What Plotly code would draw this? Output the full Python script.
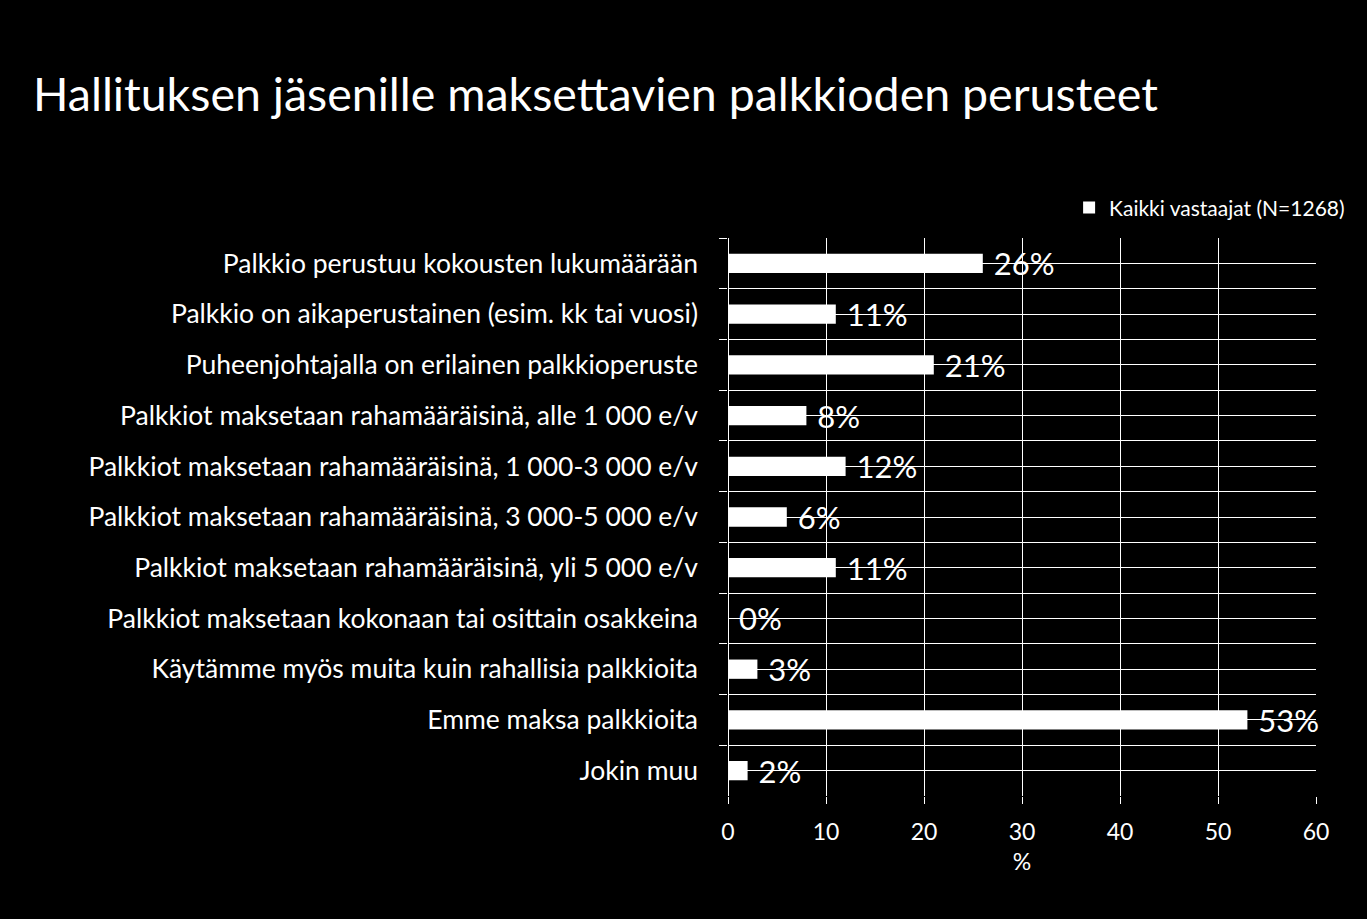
import plotly.graph_objects as go

categories = [
    "Palkkio perustuu kokousten lukumäärään",
    "Palkkio on aikaperustainen (esim. kk tai vuosi)",
    "Puheenjohtajalla on erilainen palkkioperuste",
    "Palkkiot maksetaan rahamääräisinä, alle 1 000 e/v",
    "Palkkiot maksetaan rahamääräisinä, 1 000-3 000 e/v",
    "Palkkiot maksetaan rahamääräisinä, 3 000-5 000 e/v",
    "Palkkiot maksetaan rahamääräisinä, yli 5 000 e/v",
    "Palkkiot maksetaan kokonaan tai osittain osakkeina",
    "Käytämme myös muita kuin rahallisia palkkioita",
    "Emme maksa palkkioita",
    "Jokin muu",
]
values = [26, 11, 21, 8, 12, 6, 11, 0, 3, 53, 2]
series_name = "Kaikki vastaajat (N=1268)"
title_text = "Hallituksen jäsenille maksettavien palkkioden perusteet"
x_ticks = [0, 10, 20, 30, 40, 50, 60]

FONT = "Lato"

fig = go.Figure()
fig.add_trace(go.Bar(
    x=values, y=categories, orientation="h", name=series_name,
    marker=dict(color="white", line=dict(width=0)),
    width=0.38,
    text=[f" {v}%" for v in values], textposition="outside",
    textfont=dict(color="white", size=31, family=FONT),
    constraintext="none", cliponaxis=False,
    showlegend=True,
))
# helper trace for the center gridlines
fig.add_trace(go.Scatter(
    x=[None] * len(categories), y=categories, yaxis="y2",
    mode="markers", showlegend=False, hoverinfo="skip",
))

fig.update_layout(
    width=1367, height=919,
    paper_bgcolor="black", plot_bgcolor="black",
    margin=dict(l=728, r=51, t=238, b=123),
    font=dict(family=FONT, color="white"),
    title=dict(text=title_text, x=33 / 1367, xanchor="left", y=1 - 95 / 919, yanchor="middle",
               font=dict(size=46.5, family=FONT, color="white")),
    showlegend=True,
    legend=dict(x=1.058, xanchor="right", y=1.054, yanchor="middle",
                font=dict(size=21, family=FONT, color="white"),
                bgcolor="rgba(0,0,0,0)", itemwidth=30),
    xaxis=dict(range=[0, 60], tickvals=x_ticks, showgrid=True, gridcolor="white", gridwidth=1,
               zeroline=True, zerolinecolor="white", zerolinewidth=1,
               ticks="outside", ticklen=7, tickcolor="white",
               tickfont=dict(size=23, family=FONT, color="white"), ticklabelstandoff=8,
               title=dict(text="%", font=dict(size=23, family=FONT, color="white"), standoff=10),
               showline=False),
    yaxis=dict(type="category", categoryorder="array", categoryarray=categories,
               range=[len(categories) - 0.5, -0.5], tickson="boundaries",
               showgrid=True, gridcolor="white", gridwidth=1,
               ticks="outside", ticklen=8, tickcolor="white",
               tickfont=dict(size=26.5, family=FONT, color="white"),
               ticklabelstandoff=29, showline=False),
    yaxis2=dict(type="category", categoryorder="array", categoryarray=categories,
                range=[len(categories) - 0.5, -0.5], overlaying="y", side="left",
                showgrid=True, gridcolor="white", gridwidth=1,
                showticklabels=False, ticks="", showline=False, zeroline=False),
)

fig.write_html("out.html")
